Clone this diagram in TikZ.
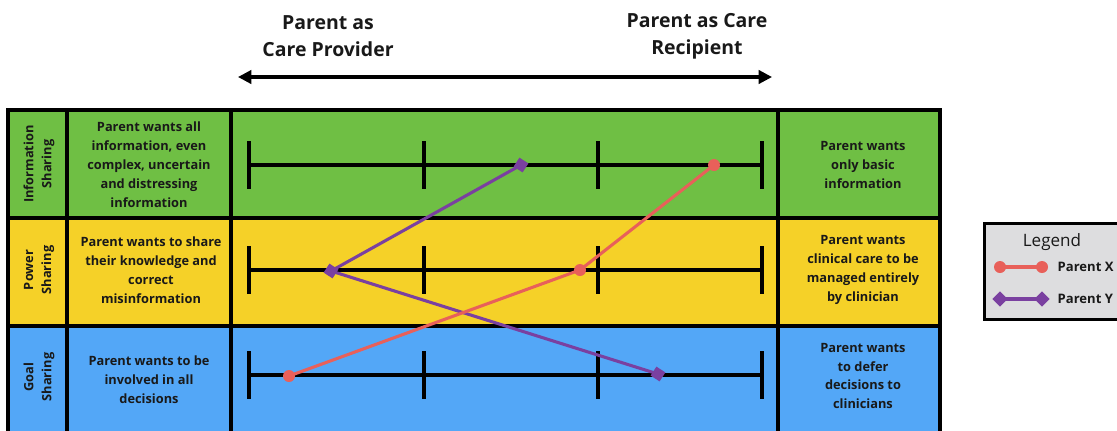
\documentclass[tikz,border=0pt]{standalone}
\usepackage{fontspec}
\setmainfont{Open Sans}
\usetikzlibrary{arrows.meta,shapes.geometric}
\definecolor{cgreen}{RGB}{111,191,68}
\definecolor{cyellow}{RGB}{245,209,40}
\definecolor{cblue}{RGB}{83,167,247}
\definecolor{cred}{RGB}{232,96,90}
\definecolor{cpurple}{RGB}{122,64,160}
\definecolor{clegend}{RGB}{221,221,223}
\definecolor{ctext}{RGB}{25,25,25}
\tikzset{
  cell/.style={draw=black, line width=2.3pt, inner sep=0pt, text=ctext, align=center,
    font=\fontsize{9.6}{14.2}\selectfont\bfseries},
  vlabel/.style={rotate=90, align=center, text=ctext, font=\fontsize{9.6}{13.5}\selectfont\bfseries},
  celltext/.style={align=center, text=ctext, font=\fontsize{9.6}{14.2}\selectfont\bfseries},
  header/.style={align=center, text=ctext, font=\fontsize{14.6}{20.5}\selectfont\bfseries},
  scaleline/.style={line width=2.3pt, black},
  xline/.style={line width=2.3pt, cred},
  yline/.style={line width=2.3pt, cpurple},
  xmark/.style={circle, fill=cred, inner sep=0pt, minimum size=9pt},
  ymark/.style={diamond, fill=cpurple, inner sep=0pt, minimum size=11.5pt},
}
\begin{document}
\begin{tikzpicture}[x=0.75pt,y=-0.75pt]
\useasboundingbox (0,0) rectangle (1117,430);
% headers
\node[header] (hl) at (328,36) {Parent as\\Care Provider};
\node[header] (hr) at (697,36) {Parent as Care\\Recipient};
\coordinate (al) at (238,77);
\coordinate (ar) at (772,77);
\draw[line width=2.3pt, {Triangle[length=10pt,width=10pt]}-{Triangle[length=10pt,width=10pt]}] (al) -- (ar);
% row cells
\foreach \r/\yc/\col in {1/164/cgreen, 2/272/cyellow, 3/380/cblue}{
  \node[cell, fill=\col, minimum width=59*0.75pt, minimum height=108*0.75pt] (a\r) at (37.5,\yc) {};
  \node[cell, fill=\col, minimum width=164*0.75pt, minimum height=108*0.75pt] (b\r) at (149,\yc) {};
  \node[cell, fill=\col, minimum width=547*0.75pt, minimum height=108*0.75pt] (c\r) at (504.5,\yc) {};
  \node[cell, fill=\col, minimum width=162*0.75pt, minimum height=108*0.75pt] (d\r) at (859,\yc) {};
}
% labels
\node[vlabel] (v1) at (39,164) {Information\\Sharing};
\node[vlabel] (v2) at (39,270) {Power\\Sharing};
\node[vlabel] (v3) at (39,377) {Goal\\Sharing};
\node[celltext] (l1) at (149,165) {Parent wants all\\information, even\\complex, uncertain\\and distressing\\information};
\node[celltext] (l2) at (151,270) {Parent wants to share\\their knowledge and\\correct\\misinformation};
\node[celltext] (l3) at (149,380) {Parent wants to be\\involved in all\\decisions};
\node[celltext] (r1) at (863,165) {Parent wants\\only basic\\information};
\node[celltext] (r2) at (863,270) {Parent wants\\clinical care to be\\managed entirely\\by clinician};
\node[celltext] (r3) at (863,376) {Parent wants\\to defer\\decisions to\\clinicians};
% scales
\foreach \y in {165,270,375}{
  \draw[scaleline] (249,\y) -- (762,\y);
  \foreach \x in {249,424,598,762}{
    \draw[scaleline] (\x,\y-24) -- (\x,\y+24);
  }
}
% data points
\coordinate (y1) at (521,165);
\coordinate (y2) at (331,271);
\coordinate (y3) at (658,374);
\coordinate (x1) at (714,165);
\coordinate (x2) at (580,270);
\coordinate (x3) at (289,376);
\draw[yline] (y1) -- (y2) -- (y3);
\foreach \p in {y1,y2,y3}{\node[ymark, rotate=12] (m\p) at (\p) {};}
\draw[xline] (x1) -- (x2) -- (x3);
\foreach \p in {x1,x2,x3}{\node[xmark] (m\p) at (\p) {};}
% legend
\node[draw=black, line width=2pt, fill=clegend, minimum width=150*0.75pt, minimum height=96*0.75pt, anchor=north west] (leg) at (983,222) {};
\node[text=ctext, font=\fontsize{12.8}{15}\selectfont] (legt) at (1052,242) {Legend};
\coordinate (lx1) at (1000,267);
\coordinate (lx2) at (1042,267);
\draw[xline] (lx1) -- (lx2);
\node[xmark] (mlx1) at (lx1) {};
\node[xmark] (mlx2) at (lx2) {};
\node[anchor=west, text=ctext, font=\fontsize{9.8}{12}\selectfont\bfseries] (ltx) at (1053,267) {Parent X};
\coordinate (ly1) at (1000,299);
\coordinate (ly2) at (1042,299);
\draw[yline] (ly1) -- (ly2);
\node[ymark] (mly1) at (ly1) {};
\node[ymark] (mly2) at (ly2) {};
\node[anchor=west, text=ctext, font=\fontsize{9.8}{12}\selectfont\bfseries] (lty) at (1053,299) {Parent Y};
\end{tikzpicture}
\end{document}
